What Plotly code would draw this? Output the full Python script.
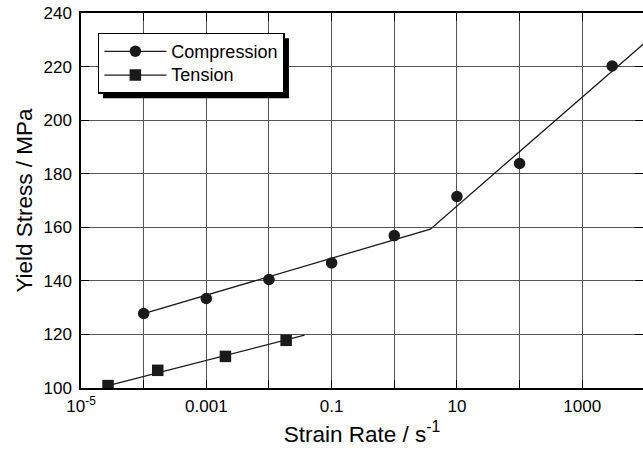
import plotly.graph_objects as go

# Data
comp_rate = [1e-4, 1e-3, 1e-2, 0.1, 1, 10, 100, 3000]
comp_stress = [127.8, 133.4, 140.5, 146.7, 156.9, 171.5, 183.8, 220.2]
tens_rate = [2.7e-5, 1.68e-4, 2.02e-3, 0.0188]
tens_stress = [100.9, 106.6, 111.8, 117.8]

# Fitted lines
comp_fit_rate = [1e-4, 3.77, 1e4]
comp_fit_stress = [127.8, 159.3, 228.9]
tens_fit_rate = [2.7e-5, 0.037]
tens_fit_stress = [100.9, 119.7]

x_tickvals = [1e-5, 1e-4, 1e-3, 1e-2, 1e-1, 1, 10, 100, 1000, 1e4]
x_ticktext = ["10<sup>-5</sup>", "", "0.001", "", "0.1", "", "10", "", "1000", ""]
y_tickvals = [100, 120, 140, 160, 180, 200, 220, 240]
y_range = [100, 240]

FONT = "Liberation Sans, Arial, sans-serif"
INK = "#1a1a1a"

fig = go.Figure()
fig.add_trace(go.Scatter(x=comp_fit_rate, y=comp_fit_stress, mode="lines",
                         line=dict(color=INK, width=1.3), showlegend=False))
fig.add_trace(go.Scatter(x=tens_fit_rate, y=tens_fit_stress, mode="lines",
                         line=dict(color=INK, width=1.3), showlegend=False))
fig.add_trace(go.Scatter(x=comp_rate, y=comp_stress, mode="markers",
                         marker=dict(symbol="circle", size=11.5, color=INK), showlegend=False))
fig.add_trace(go.Scatter(x=tens_rate, y=tens_stress, mode="markers",
                         marker=dict(symbol="square", size=11.5, color=INK), showlegend=False))
# legend entries
fig.add_trace(go.Scatter(x=[None], y=[None], mode="lines+markers",
                         name="<span style='font-size:18px'>Compression</span>",
                         line=dict(color=INK, width=1.3),
                         marker=dict(symbol="circle", size=11.5, color=INK)))
fig.add_trace(go.Scatter(x=[None], y=[None], mode="lines+markers",
                         name="<span style='font-size:18px'>Tension</span>",
                         line=dict(color=INK, width=1.3),
                         marker=dict(symbol="square", size=11.5, color=INK)))
# invisible trace to anchor the right-hand tick axis
fig.add_trace(go.Scatter(x=[None], y=[None], yaxis="y2", showlegend=False, hoverinfo="skip"))

# legend drop shadow (paper coordinates)
fig.add_shape(type="rect", xref="paper", yref="paper",
              x0=0.0391, x1=0.370, y0=0.773, y1=0.933,
              fillcolor="black", line=dict(width=0), layer="above")

fig.update_layout(
    width=643, height=449,
    margin=dict(l=81, r=0, t=13, b=61),
    plot_bgcolor="white", paper_bgcolor="white",
    font=dict(family=FONT, size=17, color="black"),
    showlegend=True,
    legend=dict(x=0.03, y=0.947, xanchor="left", yanchor="top",
                bgcolor="white", bordercolor="black", borderwidth=1.5,
                font=dict(size=16, family=FONT), itemwidth=62,
                tracegroupgap=0),
    xaxis=dict(type="log", range=[-5, 3.97], tickvals=x_tickvals, ticktext=x_ticktext,
               showgrid=True, gridcolor="#555", gridwidth=1.1,
               showline=True, linecolor="black", linewidth=1.5, mirror="ticks",
               ticks="inside", ticklen=8, tickcolor="black", tickwidth=1.2,
               tickfont=dict(size=17), zeroline=False, ticklabelstandoff=2,
               title=dict(text="Strain Rate / s<sup>-1</sup>", font=dict(size=22.5), standoff=11)),
    yaxis=dict(range=y_range, tickvals=y_tickvals,
               showgrid=True, gridcolor="#555", gridwidth=1.1,
               showline=True, linecolor="black", linewidth=1.5, mirror=False,
               ticks="inside", ticklen=8, tickcolor="black", tickwidth=1.2,
               tickfont=dict(size=17), zeroline=False, ticklabelstandoff=4,
               title=dict(text="Yield Stress / MPa", font=dict(size=22.5), standoff=5)),
    yaxis2=dict(range=y_range, tickvals=y_tickvals, overlaying="y", side="right",
                showgrid=False, showline=False, zeroline=False, showticklabels=False,
                ticks="inside", ticklen=8, tickcolor="black", tickwidth=1.2),
)

fig.write_html("out.html")
